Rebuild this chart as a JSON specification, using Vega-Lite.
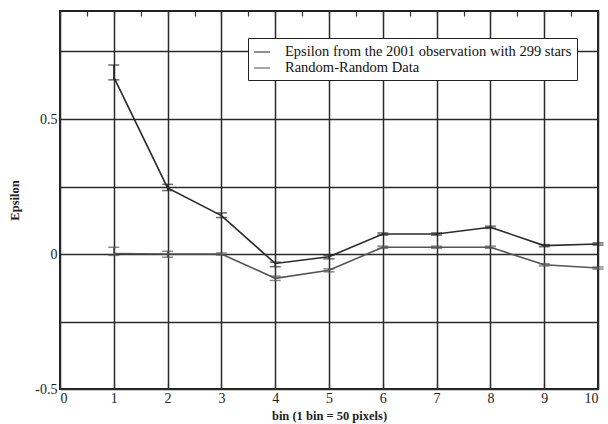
{
  "$schema": "https://vega.github.io/schema/vega-lite/v6.json",
  "width": 538,
  "height": 378,
  "autosize": "none",
  "padding": {"left": 60, "top": 11, "right": 10, "bottom": 35},
  "background": "white",
  "config": {
    "view": {"stroke": "#222", "strokeWidth": 2},
    "font": "Liberation Serif",
    "axis": {
      "labelFont": "Liberation Serif",
      "titleFont": "Liberation Serif",
      "labelColor": "#222",
      "titleColor": "#222",
      "domain": false,
      "gridColor": "#2a2a2a",
      "gridWidth": 1.5,
      "gridOpacity": 1,
      "tickColor": "#333",
      "labelFontSize": 14,
      "titleFontSize": 12.5,
      "titleFontWeight": "bold"
    }
  },
  "data": {
    "values": [
      {"bin": 1, "series": "Epsilon from the 2001 observation with 299 stars", "eps": 0.655, "lo": 0.645, "hi": 0.7},
      {"bin": 2, "series": "Epsilon from the 2001 observation with 299 stars", "eps": 0.245, "lo": 0.235, "hi": 0.258},
      {"bin": 3, "series": "Epsilon from the 2001 observation with 299 stars", "eps": 0.142, "lo": 0.135, "hi": 0.152},
      {"bin": 4, "series": "Epsilon from the 2001 observation with 299 stars", "eps": -0.035, "lo": -0.047, "hi": -0.03},
      {"bin": 5, "series": "Epsilon from the 2001 observation with 299 stars", "eps": -0.01, "lo": -0.018, "hi": -0.005},
      {"bin": 6, "series": "Epsilon from the 2001 observation with 299 stars", "eps": 0.074, "lo": 0.07, "hi": 0.078},
      {"bin": 7, "series": "Epsilon from the 2001 observation with 299 stars", "eps": 0.074, "lo": 0.07, "hi": 0.078},
      {"bin": 8, "series": "Epsilon from the 2001 observation with 299 stars", "eps": 0.099, "lo": 0.095, "hi": 0.103},
      {"bin": 9, "series": "Epsilon from the 2001 observation with 299 stars", "eps": 0.031, "lo": 0.027, "hi": 0.035},
      {"bin": 10, "series": "Epsilon from the 2001 observation with 299 stars", "eps": 0.037, "lo": 0.033, "hi": 0.041},
      {"bin": 1, "series": "Random-Random Data", "eps": 0.002, "lo": -0.005, "hi": 0.025},
      {"bin": 2, "series": "Random-Random Data", "eps": 0.0, "lo": -0.012, "hi": 0.01},
      {"bin": 3, "series": "Random-Random Data", "eps": 0.0, "lo": -0.004, "hi": 0.004},
      {"bin": 4, "series": "Random-Random Data", "eps": -0.09, "lo": -0.098, "hi": -0.082},
      {"bin": 5, "series": "Random-Random Data", "eps": -0.06, "lo": -0.066, "hi": -0.055},
      {"bin": 6, "series": "Random-Random Data", "eps": 0.025, "lo": 0.021, "hi": 0.029},
      {"bin": 7, "series": "Random-Random Data", "eps": 0.025, "lo": 0.021, "hi": 0.029},
      {"bin": 8, "series": "Random-Random Data", "eps": 0.025, "lo": 0.021, "hi": 0.029},
      {"bin": 9, "series": "Random-Random Data", "eps": -0.04, "lo": -0.044, "hi": -0.036},
      {"bin": 10, "series": "Random-Random Data", "eps": -0.052, "lo": -0.056, "hi": -0.048}
    ]
  },
  "layer": [
    {
      "mark": {"type": "line", "strokeWidth": 1.6},
      "encoding": {
        "x": {
          "field": "bin", "type": "quantitative",
          "scale": {"domain": [0, 10], "nice": false, "zero": false},
          "axis": {
            "orient": "bottom",
            "title": "bin (1 bin = 50 pixels)",
            "values": [0, 0.5, 1, 1.5, 2, 2.5, 3, 3.5, 4, 4.5, 5, 5.5, 6, 6.5, 7, 7.5, 8, 8.5, 9, 9.5, 10],
            "labelExpr": "datum.value % 1 == 0 ? datum.label : ''",
            "format": "d",
            "grid": true,
            "gridOpacity": {"condition": {"test": "datum.value % 1 != 0", "value": 0}, "value": 1},
            "tickSize": -5,
            "tickWidth": 1.2,
            "labelPadding": 7,
            "titlePadding": 4
          }
        },
        "y": {
          "field": "eps", "type": "quantitative",
          "scale": {"domain": [-0.5, 0.9], "nice": false, "zero": false},
          "axis": {
            "title": "Epsilon",
            "values": [-0.5, -0.25, 0, 0.25, 0.5, 0.75],
            "labelExpr": "datum.value == 0.5 ? '0.5' : datum.value == 0 ? '0' : datum.value == -0.5 ? '-0.5' : ''",
            "grid": true,
            "tickSize": 0,
            "labelPadding": 3,
            "titlePadding": 13
          }
        },
        "color": {
          "field": "series", "type": "nominal",
          "scale": {"domain": ["Epsilon from the 2001 observation with 299 stars", "Random-Random Data"], "range": ["#2a2a2a", "#555555"]},
          "legend": {
            "title": null,
            "orient": "none",
            "legendX": 188,
            "legendY": 27,
            "symbolType": "stroke",
            "symbolSize": 256,
            "symbolStrokeWidth": 1.5,
            "labelFont": "Liberation Serif",
            "labelFontSize": 14.5,
            "labelOffset": 14,
            "labelColor": "#111",
            "labelLimit": 400,
            "strokeColor": "#222",
            "fillColor": "white",
            "padding": 5,
            "rowPadding": 0,
            "offset": 0
          }
        }
      }
    },
    {
      "mark": {"type": "rule", "strokeWidth": 1.4},
      "encoding": {
        "x": {"field": "bin", "type": "quantitative", "axis": null},
        "y": {"field": "lo", "type": "quantitative"},
        "y2": {"field": "hi"},
        "color": {"field": "series", "type": "nominal"}
      }
    },
    {
      "mark": {"type": "tick", "orient": "horizontal", "size": 11, "thickness": 1.5},
      "encoding": {
        "x": {"field": "bin", "type": "quantitative", "axis": null},
        "y": {"field": "lo", "type": "quantitative"},
        "color": {"field": "series", "type": "nominal"}
      }
    },
    {
      "mark": {"type": "tick", "orient": "horizontal", "size": 11, "thickness": 1.5},
      "encoding": {
        "x": {"field": "bin", "type": "quantitative", "axis": null},
        "y": {"field": "hi", "type": "quantitative"},
        "color": {"field": "series", "type": "nominal"}
      }
    },
    {
      "mark": {"type": "tick", "orient": "horizontal", "size": 0, "thickness": 0},
      "encoding": {
        "x": {
          "field": "bin", "type": "quantitative",
          "axis": {
            "orient": "top",
            "title": null,
            "values": [0, 0.5, 1, 1.5, 2, 2.5, 3, 3.5, 4, 4.5, 5, 5.5, 6, 6.5, 7, 7.5, 8, 8.5, 9, 9.5, 10],
            "labels": false,
            "grid": false,
            "tickSize": -5,
            "tickWidth": 1.2
          }
        },
        "y": {"field": "eps", "type": "quantitative"}
      }
    }
  ],
  "resolve": {"axis": {"x": "independent"}}
}
